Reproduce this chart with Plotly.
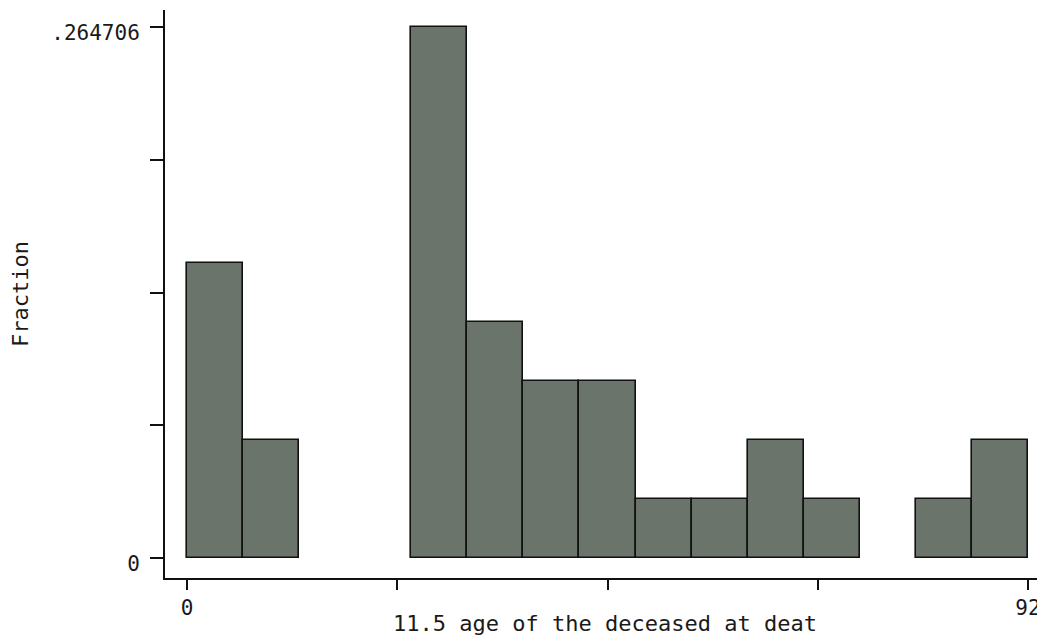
import plotly.graph_objects as go

# Histogram data (15 bins from 0 to 92), counts out of 34 observations
bin_start = 0.0
bin_end = 92.0
counts = [5, 2, 0, 0, 9, 4, 3, 3, 1, 1, 2, 1, 0, 1, 2]
total = 34

x_tickvals = [0, 23, 46, 69, 92]
x_ticktext = ["0", "", "", "", "92"]
y_max = 0.264706
y_tickvals = [0, y_max / 4, y_max / 2, 3 * y_max / 4, y_max]
y_ticktext = ["0", "", "", "", ".264706"]

nb = len(counts)
w = (bin_end - bin_start) / nb
centers = [bin_start + w * (i + 0.5) for i in range(nb)]
# empty bins draw nothing
fractions = [c / total if c > 0 else None for c in counts]

fig = go.Figure()
fig.add_trace(go.Bar(
    x=centers, y=fractions, width=w,
    marker=dict(color="#6b746b", line=dict(color="#111111", width=1.6)),
    showlegend=False,
))

font = dict(family="DejaVu Sans Mono, monospace", size=22, color="#1a1a1a")
tick_font = dict(family="DejaVu Sans Mono, monospace", size=21, color="#1a1a1a")

# page body has an 8px default margin, so the figure is 8px smaller
fig.update_layout(
    width=1037, height=628,
    margin=dict(l=157, r=0, t=2, b=58),
    paper_bgcolor="white", plot_bgcolor="white",
    font=font,
    bargap=0,
    xaxis=dict(
        range=[-2.41, 93.86], showgrid=False, zeroline=False, automargin=False,
        showline=True, linecolor="#111111", linewidth=2,
        ticks="outside", ticklen=10, tickwidth=2, tickcolor="#111111",
        tickvals=x_tickvals, ticktext=x_ticktext, tickfont=tick_font,
        title=dict(text="11.5 age of the deceased at deat", standoff=2, font=font),
    ),
    yaxis=dict(
        range=[-0.00997, 0.27318], showgrid=False, zeroline=False, automargin=False,
        showline=True, linecolor="#111111", linewidth=2,
        ticks="outside", ticklen=13, tickwidth=2, tickcolor="#111111",
        tickvals=y_tickvals, ticktext=y_ticktext, tickfont=tick_font,
        ticklabelstandoff=6, ticklabelshift=6,
        title=dict(text="Fraction", standoff=28, font=font),
    ),
)

fig.write_html("out.html")
